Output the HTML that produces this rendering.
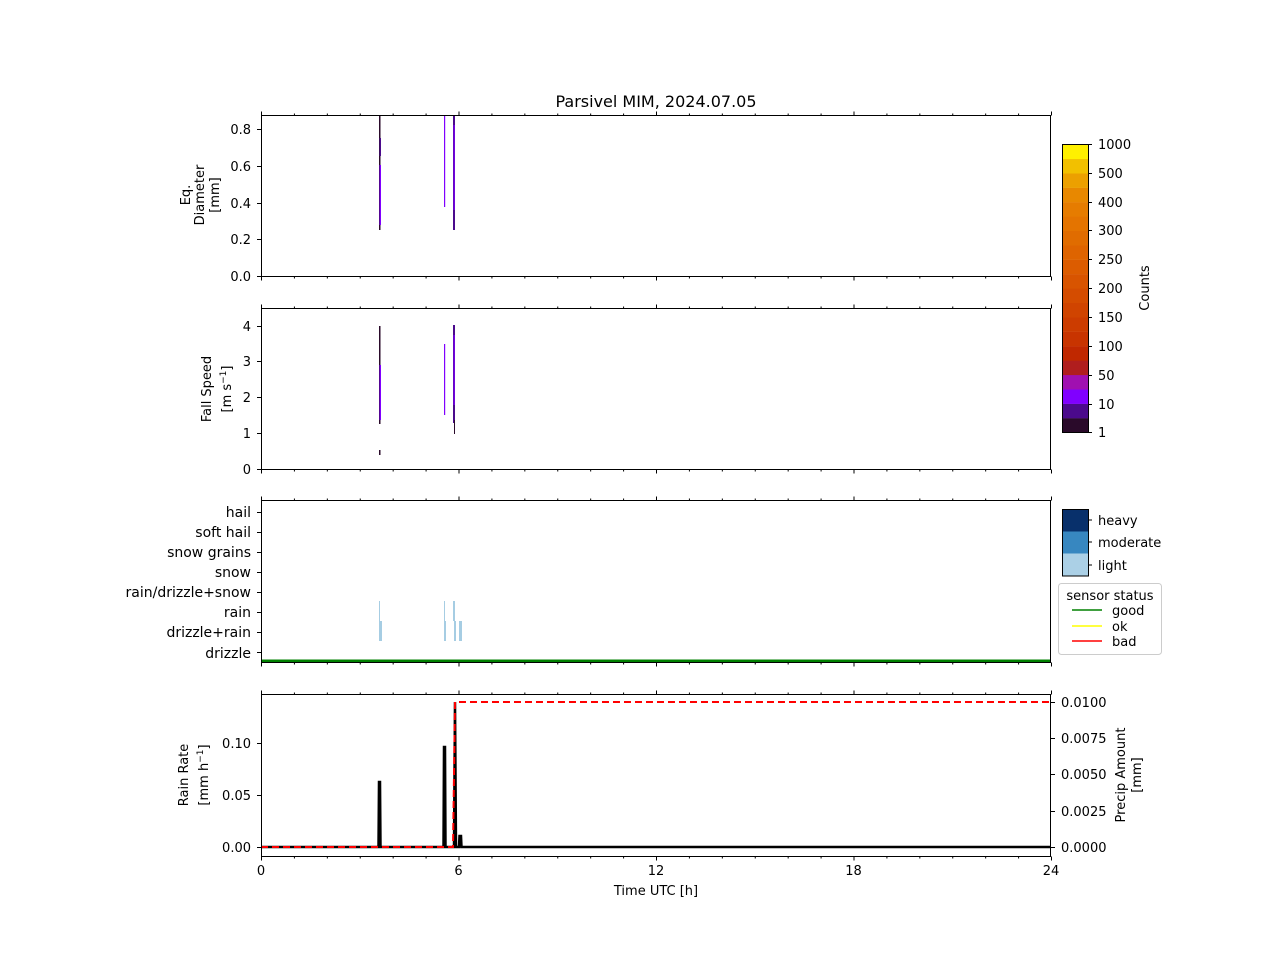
<!DOCTYPE html>
<html><head><meta charset="utf-8"><style>
body{margin:0;background:#fff}
svg text{font-family:"DejaVu Sans","Liberation Sans",sans-serif;font-size:13px;fill:#000}
svg text.big{font-size:14px}
</style></head><body>
<svg id="s" width="1280" height="960" xmlns="http://www.w3.org/2000/svg">
<rect width="1280" height="960" fill="#fff"/>
<text x="656" y="107" text-anchor="middle" style="font-size:16px">Parsivel MIM, 2024.07.05</text>

<rect x="379" y="115" width="1.5" height="115" fill="#2a0a2a"/>
<rect x="379.5" y="165" width="1.5" height="60" fill="#8000ff"/>
<rect x="379.5" y="138" width="1.5" height="18" fill="#4b0a8c"/>
<rect x="444" y="115" width="1.2" height="92" fill="#8000ff"/>
<rect x="453" y="115" width="2" height="115" fill="#4b0a8c"/>
<rect x="453.5" y="125" width="1.2" height="85" fill="#8000ff"/>
<rect x="379" y="326" width="1.5" height="98" fill="#2a0a2a"/>
<rect x="379.5" y="365" width="1.5" height="55" fill="#8000ff"/>
<rect x="379" y="450" width="1.5" height="5" fill="#2a0a2a"/>
<rect x="444" y="344" width="1.2" height="71" fill="#8000ff"/>
<rect x="453" y="325" width="2" height="98" fill="#4b0a8c"/>
<rect x="453.5" y="335" width="1.2" height="70" fill="#8000ff"/>
<rect x="454" y="420" width="1" height="14" fill="#2a0a2a"/>
<g fill="#a6cde3">
<rect x="379" y="601" width="1" height="20"/><rect x="379" y="621" width="3" height="20"/>
<rect x="444" y="601" width="1" height="20"/><rect x="444" y="621" width="2" height="20"/>
<rect x="453" y="601" width="2" height="20"/><rect x="454" y="621" width="2" height="20"/>
<rect x="459" y="621" width="3" height="20"/>
</g>
<rect x="261" y="659.5" width="790" height="2.5" fill="#008000"/>
<polyline fill="none" stroke="#000" stroke-width="2.5" points="261,847 378.5,847 379,782 380,782 380.5,847 443.5,847 444,747 445,747 445.5,847 454,847 455,702 456,847 459,847 459.5,836 461,836 461.5,847 1051,847"/>
<polyline fill="none" stroke="#f00" stroke-width="2" stroke-dasharray="7,4" points="261,847 453,847 455,702 1051,702"/>

<g id="axes"></g>

<g text-anchor="end">
<text x="251" y="281">0.0</text><text x="251" y="244">0.2</text><text x="251" y="208">0.4</text><text x="251" y="171">0.6</text><text x="251" y="134">0.8</text>
<text x="251" y="474">0</text><text x="251" y="438">1</text><text x="251" y="402">2</text><text x="251" y="366">3</text><text x="251" y="331">4</text>
<text class="big" x="251" y="517">hail</text><text class="big" x="251" y="537">soft hail</text><text class="big" x="251" y="557">snow grains</text><text class="big" x="251" y="577">snow</text><text class="big" x="251" y="597">rain/drizzle+snow</text><text class="big" x="251" y="617">rain</text><text class="big" x="251" y="637">drizzle+rain</text><text class="big" x="251" y="658">drizzle</text>
<text x="251" y="852">0.00</text><text x="251" y="800">0.05</text><text x="251" y="748">0.10</text>
</g>
<g text-anchor="start">
<text x="1061" y="852">0.0000</text><text x="1061" y="816">0.0025</text><text x="1061" y="779">0.0050</text><text x="1061" y="743">0.0075</text><text x="1061" y="707">0.0100</text>
</g>
<g text-anchor="middle">
<text x="261" y="875">0</text><text x="458.5" y="875">6</text><text x="656" y="875">12</text><text x="853.5" y="875">18</text><text x="1051" y="875">24</text>
<text x="656" y="895">Time UTC [h]</text>
</g>
<text transform="translate(190,195) rotate(-90)" text-anchor="middle">Eq.</text>
<text transform="translate(204,195) rotate(-90)" text-anchor="middle">Diameter</text>
<text transform="translate(219,195) rotate(-90)" text-anchor="middle">[mm]</text>
<text transform="translate(211,389) rotate(-90)" text-anchor="middle">Fall Speed</text>
<text transform="translate(231,389) rotate(-90)" text-anchor="middle">[m s<tspan dy="-5" style="font-size:9px">−1</tspan><tspan dy="5">]</tspan></text>
<text transform="translate(188,775) rotate(-90)" text-anchor="middle">Rain Rate</text>
<text transform="translate(208,775) rotate(-90)" text-anchor="middle">[mm h<tspan dy="-5" style="font-size:9px">−1</tspan><tspan dy="5">]</tspan></text>
<text transform="translate(1125,775) rotate(-90)" text-anchor="middle">Precip Amount</text>
<text transform="translate(1141,775) rotate(-90)" text-anchor="middle">[mm]</text>

<g id="cb"></g>
<rect x="1062.5" y="144.5" width="26" height="288" fill="none" stroke="#000"/>
<g>
<text x="1098" y="149">1000</text><text x="1098" y="178">500</text><text x="1098" y="207">400</text><text x="1098" y="235">300</text><text x="1098" y="264">250</text><text x="1098" y="293">200</text><text x="1098" y="322">150</text><text x="1098" y="351">100</text><text x="1098" y="380">50</text><text x="1098" y="409">10</text><text x="1098" y="437">1</text>
</g>
<text transform="translate(1149,288) rotate(-90)" text-anchor="middle">Counts</text>

<rect x="1062" y="509" width="26" height="22.5" fill="#08306b"/>
<rect x="1062" y="531.5" width="26" height="22" fill="#3787c0"/>
<rect x="1062" y="553.5" width="26" height="22.5" fill="#abd0e6"/>
<rect x="1062.5" y="509.5" width="26" height="66.5" fill="none" stroke="#000"/>
<g stroke="#000"><line x1="1088" y1="520" x2="1092" y2="520"/><line x1="1088" y1="542" x2="1092" y2="542"/><line x1="1088" y1="565" x2="1092" y2="565"/></g>
<text x="1098" y="525">heavy</text><text x="1098" y="547">moderate</text><text x="1098" y="570">light</text>

<rect x="1058.5" y="583.5" width="103" height="71" rx="3" fill="#fff" stroke="#ccc"/>
<text x="1110" y="600" text-anchor="middle">sensor status</text>
<line x1="1072" y1="610" x2="1102" y2="610" stroke="#008000" stroke-width="1.5"/>
<line x1="1072" y1="626" x2="1102" y2="626" stroke="#ff0" stroke-width="1.5"/>
<line x1="1072" y1="641" x2="1102" y2="641" stroke="#f00" stroke-width="1.5"/>
<text x="1112" y="615">good</text><text x="1112" y="631">ok</text><text x="1112" y="646">bad</text>
</svg>
<script>
var NS="http://www.w3.org/2000/svg",ax=document.getElementById("axes");
function L(x1,y1,x2,y2,w){var l=document.createElementNS(NS,"line");l.setAttribute("x1",x1);l.setAttribute("y1",y1);l.setAttribute("x2",x2);l.setAttribute("y2",y2);l.setAttribute("stroke","#000");l.setAttribute("stroke-width",w||1);ax.appendChild(l);}
var panels=[[115,276],[308,469],[500,662],[694,856]];
panels.forEach(function(p,i){
 var t=p[0]+0.5,b=p[1]+0.5;
 var r=document.createElementNS(NS,"rect");r.setAttribute("x",261.5);r.setAttribute("y",t);r.setAttribute("width",789);r.setAttribute("height",b-t);r.setAttribute("fill","none");r.setAttribute("stroke","#000");ax.appendChild(r);
 for(var h=0;h<=24;h++){var x=261+h*790/24+0.5;var len=(h%6==0)?4:2;
  L(x,b,x,b+len);L(x,t,x,t-len);}
});
[276,239,203,166,129,469,433,397,361,326,512,532,552,572,592,612,632,652,847,795,743].forEach(function(y){L(257,y+0.5,261,y+0.5);});
[847,811,774,738,702].forEach(function(y){L(1051,y+0.5,1055,y+0.5);});
var cb=document.getElementById("cb");
var cols=["#2a0a2a","#4b0a8c","#8000ff","#a010b0","#b01e1e","#c02800","#c83400","#cc3c00","#d04400","#d44c00","#d85400","#dc5c00","#de6400","#e06c00","#e47400","#e67c00","#e88800","#eca000","#f2c000","#fff000"];
cols.forEach(function(c,i){var r=document.createElementNS(NS,"rect");r.setAttribute("x",1062.5);r.setAttribute("y",432.5-(i+1)*14.4);r.setAttribute("width",26);r.setAttribute("height",14.6);r.setAttribute("fill",c);cb.appendChild(r);});
[144,173,202,230,259,288,317,346,375,404,432].forEach(function(y){var l=document.createElementNS(NS,"line");l.setAttribute("x1",1088);l.setAttribute("x2",1092);l.setAttribute("y1",y+0.5);l.setAttribute("y2",y+0.5);l.setAttribute("stroke","#000");cb.appendChild(l);});
</script>
</body></html>
